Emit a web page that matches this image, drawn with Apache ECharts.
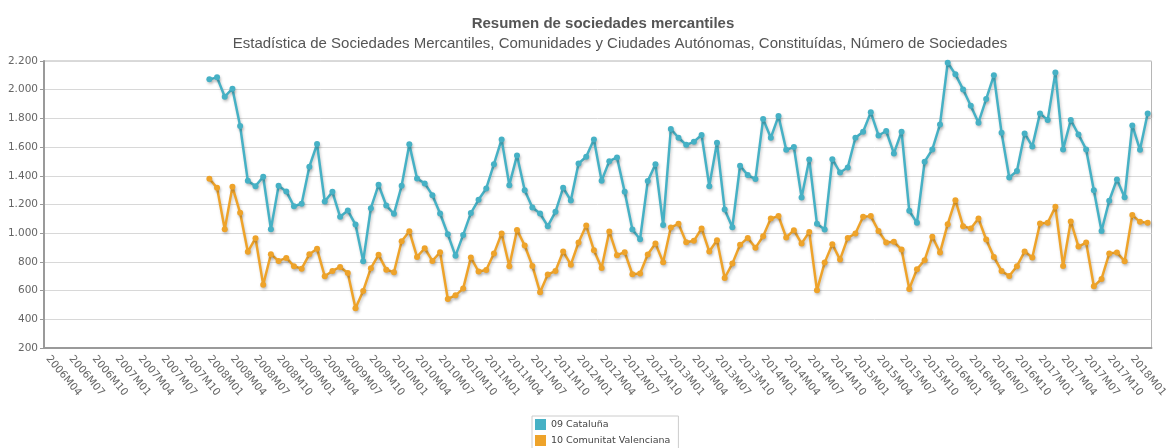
<!DOCTYPE html>
<html>
<head>
<meta charset="utf-8">
<script src="https://cdn.jsdelivr.net/npm/echarts@6/dist/echarts.min.js"></script>
<style>
  html, body { margin: 0; padding: 0; background: #fff; }
  #main { width: 1170px; height: 448px; }
</style>
</head>
<body>
<div id="main"></div>
<script>
// periodos mensuales 2006M04 .. 2018M03
const categories = [];
for (let y = 2006; y <= 2018; y++) {
  for (let m = 1; m <= 12; m++) {
    if (y === 2006 && m < 4) continue;
    if (y === 2018 && m > 3) continue;
    categories.push(y + 'M' + String(m).padStart(2, '0'));
  }
}

const seriesNames = ['09 Cataluña', '10 Comunitat Valenciana'];

// valores desde 2008M01
const cataluna = [
  2072, 2086, 1951, 2007, 1747, 1365, 1328, 1393, 1028, 1330, 1291, 1188,
  1205, 1463, 1621, 1221, 1288, 1114, 1158, 1060, 805, 1174, 1337, 1193,
  1135, 1330, 1619, 1381, 1347, 1265, 1137, 993, 842, 988, 1140, 1233,
  1312, 1481, 1653, 1335, 1542, 1300, 1179, 1137, 1049, 1149, 1316, 1228,
  1486, 1533, 1653, 1365, 1502, 1528, 1288, 1026, 958, 1363, 1481, 1058,
  1726, 1665, 1616, 1637, 1684, 1328, 1630, 1165, 1042, 1470, 1405, 1377,
  1795, 1665, 1816, 1581, 1600, 1249, 1514, 1065, 1025, 1516, 1423, 1458,
  1665, 1707, 1842, 1681, 1712, 1556, 1707, 1156, 1072, 1498, 1584, 1758,
  2188, 2107, 2002, 1888, 1770, 1935, 2100, 1700, 1388, 1433, 1695, 1605,
  1835, 1788, 2119, 1584, 1788, 1688, 1584, 1300, 1016, 1226, 1374, 1251,
  1751, 1581, 1835
];

const valenciana = [
  1379, 1316, 1028, 1323, 1142, 870, 965, 640, 853, 807, 828, 770,
  753, 853, 891, 700, 737, 765, 723, 477, 598, 756, 849, 746,
  728, 944, 1014, 835, 895, 807, 867, 542, 567, 614, 830, 733,
  744, 858, 998, 770, 1023, 914, 772, 588, 712, 737, 872, 781,
  935, 1053, 881, 758, 1012, 847, 868, 714, 719, 851, 928, 798,
  1040, 1065, 937, 947, 1033, 872, 951, 688, 788, 919, 967, 898,
  979, 1102, 1119, 970, 1021, 928, 1009, 602, 795, 923, 816, 967,
  998, 1114, 1119, 1016, 935, 940, 886, 612, 749, 812, 975, 865,
  1063, 1230, 1049, 1033, 1102, 956, 835, 737, 702, 770, 872, 830,
  1068, 1072, 1184, 772, 1082, 907, 935, 630, 681, 858, 865, 805,
  1126, 1079, 1072
];

const yTicks = [200, 400, 600, 800, 1000, 1200, 1400, 1600, 1800, 2000, 2200];

const offset = categories.indexOf('2008M01');
const pad = arr => new Array(offset).fill(null).concat(arr);

const fmt = v => v >= 1000 ? Math.floor(v / 1000) + '.' + String(v % 1000).padStart(3, '0') : String(v);

const colors = ['#46b1c5', '#eea32a'];

const chart = echarts.init(document.getElementById('main'));

const shadow = {
  shadowColor: 'rgba(0,0,0,0.22)',
  shadowBlur: 3,
  shadowOffsetX: 1,
  shadowOffsetY: 2
};

const option = {
  animation: false,
  color: colors,
  title: [
    {
      text: 'Resumen de sociedades mercantiles',
      left: 598,
      top: 11,
      textAlign: 'center',
      textStyle: { fontFamily: 'Liberation Sans', fontSize: 15, fontWeight: 'bold', color: '#555' }
    },
    {
      text: 'Estadística de Sociedades Mercantiles, Comunidades y Ciudades Autónomas, Constituídas, Número de Sociedades',
      left: 615,
      top: 31,
      textAlign: 'center',
      textStyle: { fontFamily: 'Liberation Sans', fontSize: 15, fontWeight: 'normal', color: '#555' }
    }
  ],
  legend: {
    data: seriesNames,
    orient: 'vertical',
    left: 532,
    top: 416,
    height: 40,
    padding: [3, 8, 3, 3],
    borderColor: '#ccc',
    borderWidth: 1,
    icon: 'rect',
    itemWidth: 11,
    itemHeight: 11,
    itemGap: 5,
    textStyle: { fontFamily: 'DejaVu Sans', fontSize: 9.5, color: '#444' }
  },
  grid: {
    left: 44,
    right: 11,
    top: 61,
    bottom: 100,
    show: true,
    borderColor: '#b5b5b5',
    borderWidth: 1,
    containLabel: false
  },
  xAxis: {
    type: 'category',
    data: categories,
    boundaryGap: true,
    axisLine: { lineStyle: { color: '#9a9a9a', width: 2 } },
    axisTick: { interval: 0, length: 3, lineStyle: { color: '#bbb' } },
    axisLabel: {
      interval: 2,
      rotate: -50,
      margin: 9,
      fontFamily: 'DejaVu Sans',
      fontSize: 10.5,
      color: '#666'
    },
    splitLine: { show: false }
  },
  yAxis: {
    type: 'value',
    min: yTicks[0],
    max: yTicks[yTicks.length - 1],
    interval: 200,
    axisLine: { show: true, lineStyle: { color: '#9a9a9a', width: 2 } },
    axisTick: { show: true, length: 4, lineStyle: { color: '#999' } },
    axisLabel: {
      formatter: fmt,
      margin: 6,
      fontFamily: 'DejaVu Sans',
      fontSize: 10.5,
      color: '#666'
    },
    splitLine: { lineStyle: { color: '#d8d8d8', width: 1 } }
  },
  series: [
    {
      name: seriesNames[0],
      type: 'line',
      data: pad(cataluna),
      symbol: 'circle',
      symbolSize: 6,
      showAllSymbol: true,
      lineStyle: Object.assign({ width: 2.5 }, shadow),
      itemStyle: Object.assign({ color: colors[0] }, shadow)
    },
    {
      name: seriesNames[1],
      type: 'line',
      data: pad(valenciana),
      symbol: 'circle',
      symbolSize: 6,
      showAllSymbol: true,
      lineStyle: Object.assign({ width: 2.5 }, shadow),
      itemStyle: Object.assign({ color: colors[1] }, shadow)
    }
  ]
};

option && chart.setOption(option);
</script>
</body>
</html>
